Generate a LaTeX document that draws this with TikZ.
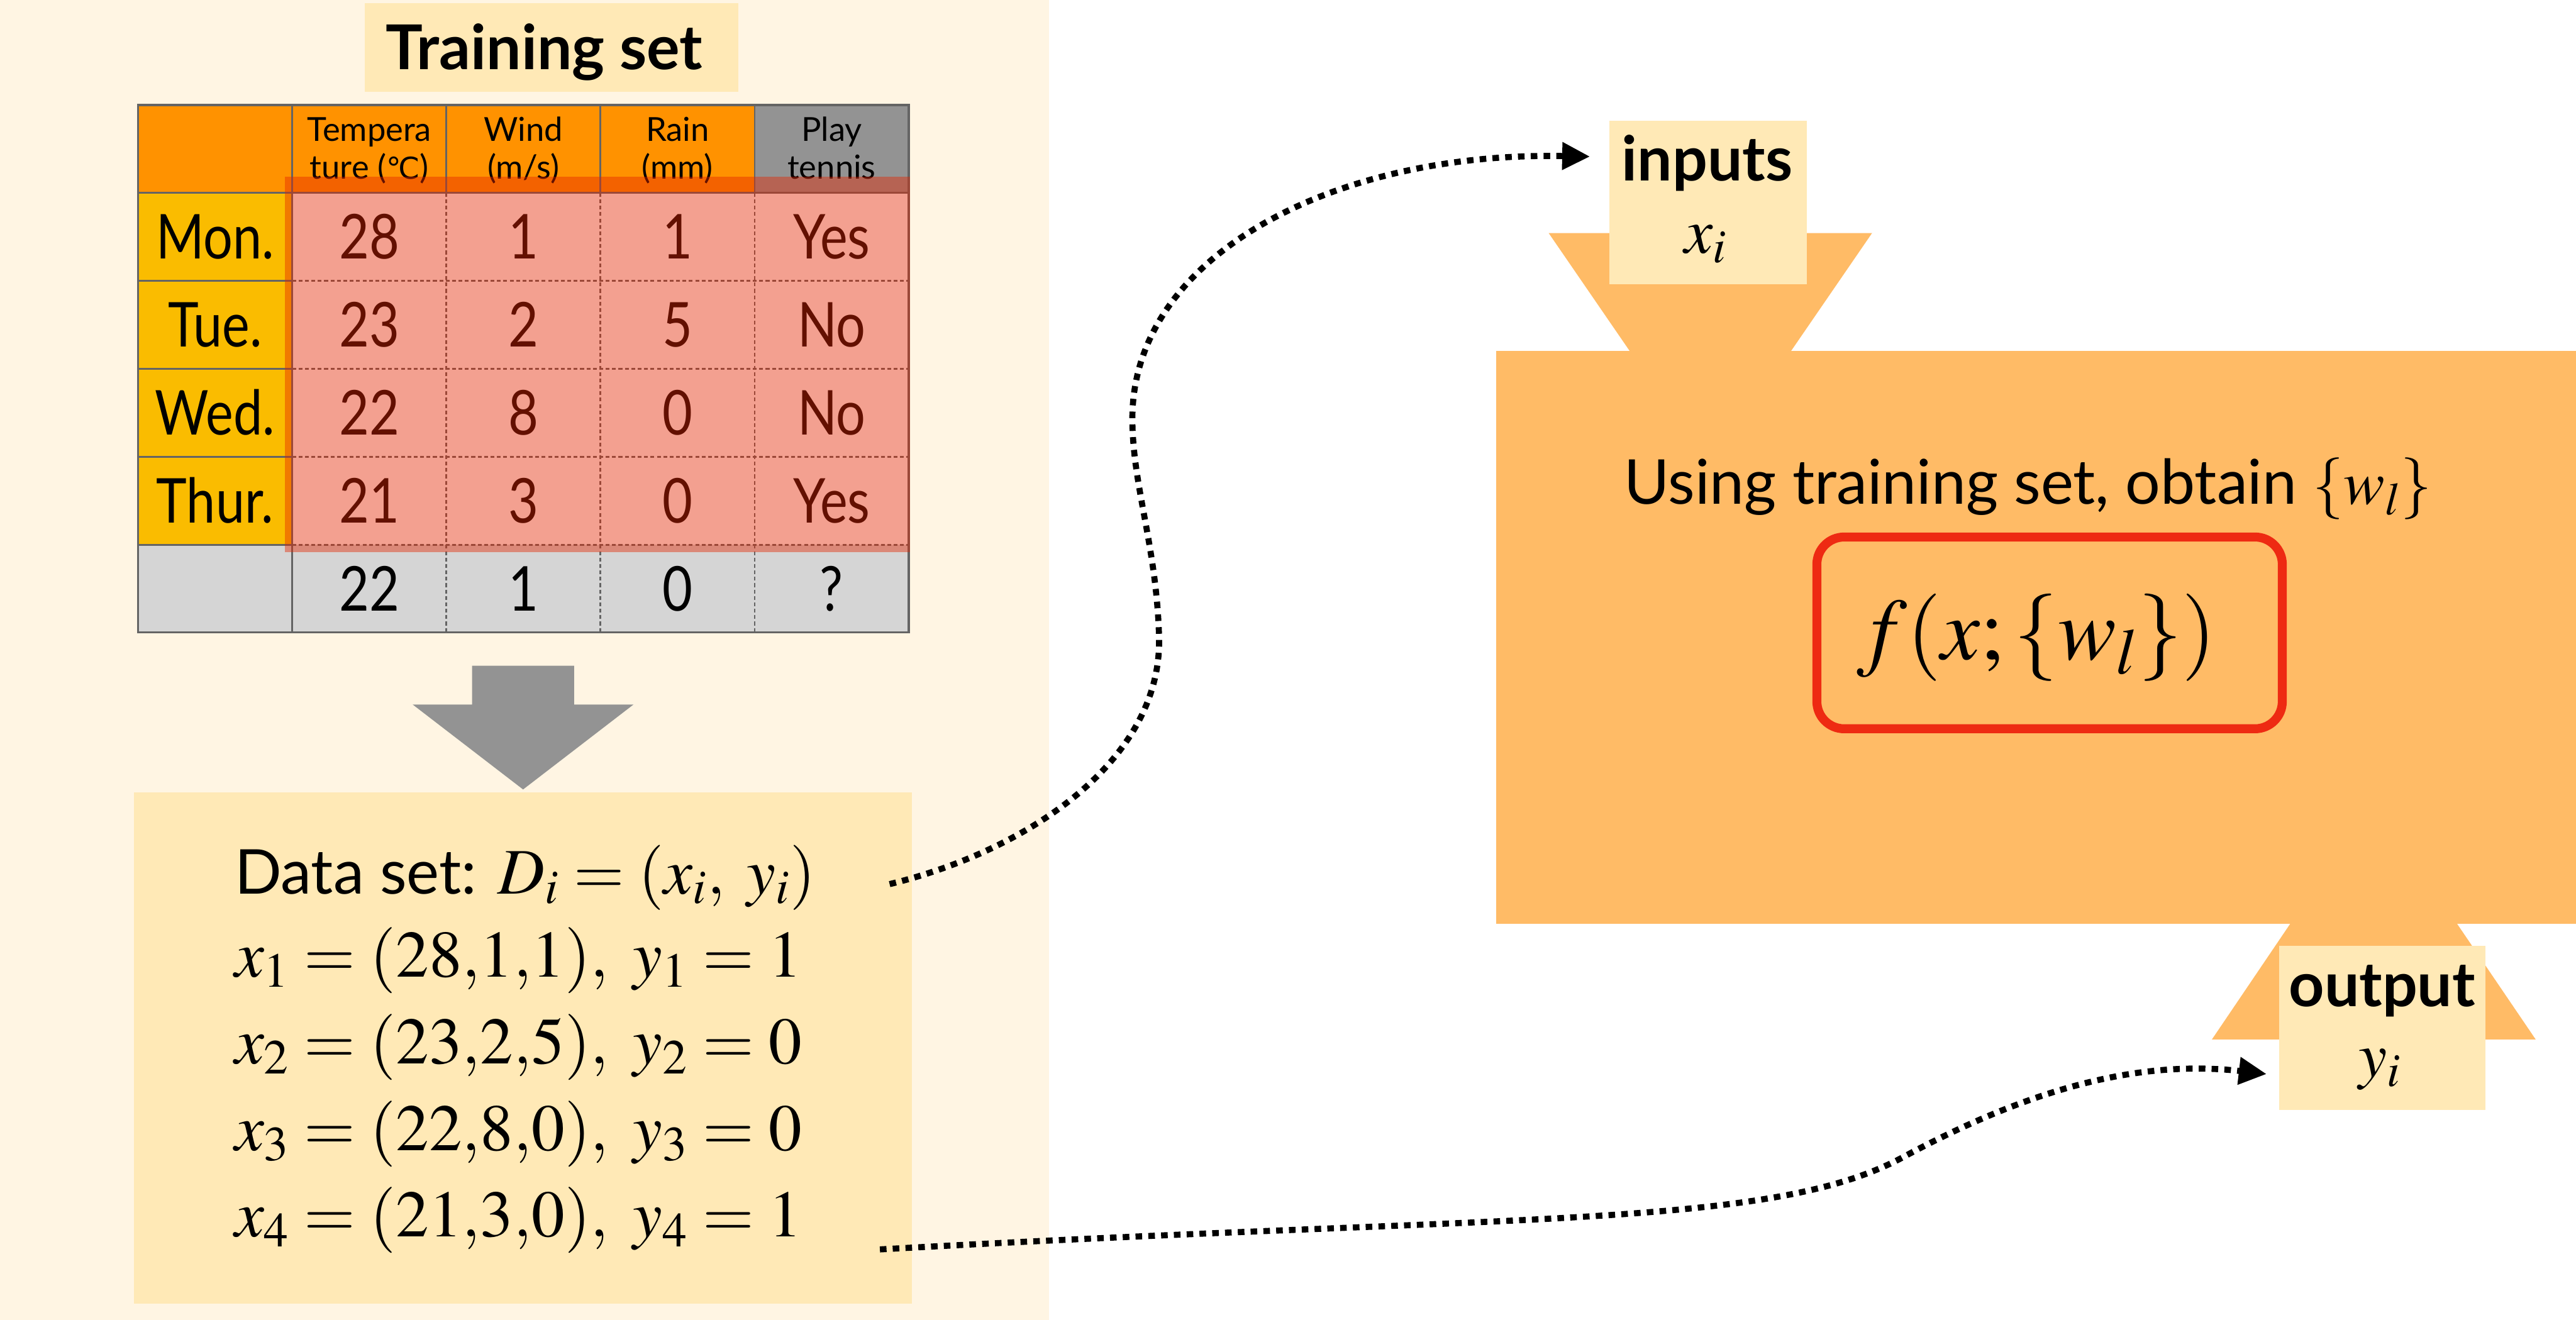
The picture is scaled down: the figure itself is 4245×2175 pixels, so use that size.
\documentclass[tikz,border=0pt]{standalone}
\usepackage{mathptmx}
\usepackage[no-math]{fontspec}
\setmainfont{Lato}
\newfontfamily\tablefont[FakeStretch=0.84]{Lato}
\newfontfamily\symfont{DejaVu Sans}
\usetikzlibrary{arrows.meta}

\definecolor{panelcream}{RGB}{255,245,227}
\definecolor{paleyellow}{RGB}{255,233,182}
\definecolor{boxorange}{RGB}{255,187,102}
\definecolor{headorange}{RGB}{255,146,0}
\definecolor{daygold}{RGB}{250,188,0}
\definecolor{headgray}{RGB}{147,147,147}
\definecolor{rowgray}{RGB}{213,213,213}
\definecolor{gridgray}{RGB}{100,100,100}
\definecolor{hilite}{RGB}{228,37,0}
\definecolor{markred}{RGB}{238,42,18}
\definecolor{arrowgray}{RGB}{147,147,147}

\tikzset{
  bigtext/.style={inner sep=0pt, anchor=base, font=\fontsize{29}{34}\selectfont},
  boldlabel/.style={inner sep=0pt, anchor=base, font=\fontsize{29}{34}\selectfont\bfseries},
  mathlabel/.style={inner sep=0pt, anchor=base, font=\fontsize{30}{36}\selectfont},
  datatext/.style={inner sep=0pt, anchor=base west, font=\fontsize{29}{34}\selectfont},
  datamath/.style={inner sep=0pt, anchor=base west, font=\fontsize{31}{36}\selectfont},
  cell/.style={inner sep=0pt, anchor=base, font=\tablefont\fontsize{29}{34}\selectfont},
  headcell/.style={inner sep=0pt, anchor=base, font=\fontsize{15.5}{18}\selectfont},
  gridline/.style={draw=gridgray, line width=0.8pt},
  griddash/.style={draw=gridgray, line width=0.8pt, dash pattern=on 1.8pt off 1.2pt},
  panel/.style={inner sep=0pt, outer sep=0pt, draw=none},
  conn/.style={line width=2.85pt, dash pattern=on 3.1pt off 2.9pt,
               -{Triangle[length=13pt,width=12.4pt]}},
}

\begin{document}
\begin{tikzpicture}[x=0.1mm,y=-0.1mm]
\useasboundingbox (0,0) rectangle (4245,2175);
\fill[white] (0,0) rectangle (4245,2175);

% left panel
\fill[panelcream] (0,0) rectangle (1729,2175);

% title
\node[panel, fill=paleyellow, minimum width=61.6mm, minimum height=14.6mm] (titlebox) at (909,78) {};
\node[boldlabel] (title) at (897,115) {Training set};

% table cells
\fill[headorange] (227.5,173) rectangle (1243.5,318);
\fill[headgray] (1243.5,173) rectangle (1497.5,318);
\fill[daygold] (227.5,318) rectangle (481.5,898);
\fill[white] (481.5,318) rectangle (1497.5,898);
\fill[rowgray] (227.5,898) rectangle (1497.5,1042);

% table rules
\draw[gridline] (227.5,318) -- (1497.5,318);
\draw[gridline] (481.5,173) -- (481.5,1042);
\foreach \x in {735.5,989.5,1243.5} {
  \draw[gridline] (\x,173) -- (\x,318);
  \draw[griddash] (\x,318) -- (\x,1042);
}
\foreach \y in {463,608,753,898} {
  \draw[gridline] (227.5,\y) -- (481.5,\y);
  \draw[griddash] (481.5,\y) -- (1497.5,\y);
}
\draw[gridline, line width=1.1pt] (227.5,173) rectangle (1497.5,1042);

% column headings
\node[headcell] (hTa) at (608.5,233) {Tempera};
\node[headcell] (hTb) at (608.5,295) {ture ({\symfont\fontsize{14}{18}\selectfont ℃})};
\node[headcell] (hWa) at (862.5,233) {Wind};
\node[headcell] (hWb) at (862.5,295) {(m/s)};
\node[headcell] (hRa) at (1116.5,233) {Rain};
\node[headcell] (hRb) at (1116.5,295) {(mm)};
\node[headcell] (hPa) at (1370.5,233) {Play};
\node[headcell] (hPb) at (1370.5,295) {tennis};

% table body
\foreach \d/\a/\b/\c/\p [count=\r from 0] in
  {Mon./28/1/1/Yes, Tue./23/2/5/No, Wed./22/8/0/No, Thur./21/3/0/Yes} {
  \pgfmathsetmacro\by{426.5+145*\r}
  \node[cell] (day\r) at (354.5,\by) {\d};
  \node[cell] (tmp\r) at (608.5,\by) {\a};
  \node[cell] (wnd\r) at (862.5,\by) {\b};
  \node[cell] (rain\r) at (1116.5,\by) {\c};
  \node[cell] (play\r) at (1370.5,\by) {\p};
}
\node[cell] (tmp4) at (608.5,1006.5) {22};
\node[cell] (wnd4) at (862.5,1006.5) {1};
\node[cell] (rain4) at (1116.5,1006.5) {0};
\node[cell] (play4) at (1370.5,1006.5) {?};

% translucent highlight over the labelled rows
\fill[hilite, fill opacity=0.435] (469,291) rectangle (1500,910);

% block arrow
\fill[arrowgray] (778,1097) -- (946,1097) -- (946,1161) -- (1044,1161)
  -- (862,1301) -- (680,1161) -- (778,1161) -- cycle;

% data set box
\node[panel, fill=paleyellow, minimum width=128.2mm, minimum height=84.2mm] (data) at (862,1727) {};
\node[datatext] (d0) at (386,1473) {Data set: {\fontsize{30.5}{36}\selectfont$D_i=(x_i,\;y_i)$}};
\node[datamath] (d1) at (386,1610) {$x_1=(28{,}1{,}1),\ y_1=1$};
\node[datamath] (d2) at (386,1753) {$x_2=(23{,}2{,}5),\ y_2=0$};
\node[datamath] (d3) at (386,1896) {$x_3=(22{,}8{,}0),\ y_3=0$};
\node[datamath] (d4) at (386,2038) {$x_4=(21{,}3{,}0),\ y_4=1$};

% model block with funnels
\fill[boxorange] (2552,384) -- (3085,384) -- (2949,582) -- (2688,582) -- cycle;
\fill[boxorange] (3777,1518) -- (4046,1518) -- (4178.5,1713) -- (3645,1713) -- cycle;
\node[panel, fill=boxorange, minimum width=177.9mm, minimum height=94.4mm] (proc) at (3355.5,1050) {};
\node[panel, fill=paleyellow, minimum width=32.5mm, minimum height=26.9mm] (inbox) at (2814.5,333.5) {};
\node[panel, fill=paleyellow, minimum width=34mm, minimum height=27mm] (outbox) at (3926,1694) {};

\node[boldlabel] (inlabel) at (2813.5,298) {inputs};
\node[mathlabel] (inmath) at (2811,417) {$x_i$};
\node[boldlabel] (outlabel) at (3925.5,1659) {output};
\node[mathlabel] (outmath) at (3922,1775) {$y_i$};

\node[bigtext] (goal) at (3342,831) {Using training set, obtain $\{w_l\}$};

% marker-pen frame round the model function
\draw[markred, line width=4.2pt, rounded corners=4.5mm] (2994,885) rectangle (3761,1201);
\node[inner sep=0pt, anchor=base, font=\fontsize{41}{48}\selectfont] (model) at (3356,1087) {$f(x;\{w_l\})$};

% dotted connectors
\coordinate (c1s) at (1466,1457);
\coordinate (c1e) at (2620,258);
\coordinate (c2s) at (1450,2059);
\coordinate (c2e) at (3735,1770);
\draw[conn] (c1s) .. controls (1700,1400) and (1915,1250) .. (1910,1050)
  .. controls (1906,900) and (1866,800) .. (1866,690)
  .. controls (1866,420) and (2200,250) .. (c1e);
\draw[conn] (c2s) .. controls (2500,2000) and (2916,2026) .. (3136,1907)
  .. controls (3356,1788) and (3535,1747) .. (c2e);
\end{tikzpicture}
\end{document}
